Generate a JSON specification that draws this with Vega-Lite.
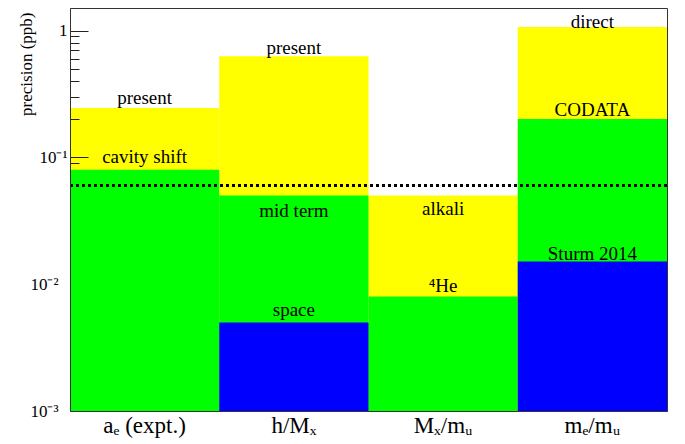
{
  "$schema": "https://vega.github.io/schema/vega-lite/v6.json",
  "width": 597,
  "height": 403,
  "autosize": {"type": "none"},
  "padding": {"left": 70, "top": 8, "right": 18, "bottom": 33},
  "background": "white",
  "config": {
    "view": {"stroke": "#333333", "strokeWidth": 1},
    "font": "Liberation Serif"
  },
  "datasets": {
    "bars": [
      {"cat": "aₑ (expt.)", "level": "yellow", "value": 0.245},
      {"cat": "h/Mₓ", "level": "yellow", "value": 0.63},
      {"cat": "Mₓ/mᵤ", "level": "yellow", "value": 0.05},
      {"cat": "mₑ/mᵤ", "level": "yellow", "value": 1.07},
      {"cat": "aₑ (expt.)", "level": "green", "value": 0.08},
      {"cat": "h/Mₓ", "level": "green", "value": 0.05},
      {"cat": "Mₓ/mᵤ", "level": "green", "value": 0.008},
      {"cat": "mₑ/mᵤ", "level": "green", "value": 0.201},
      {"cat": "h/Mₓ", "level": "blue", "value": 0.005},
      {"cat": "mₑ/mᵤ", "level": "blue", "value": 0.0151}
    ],
    "labels": [
      {"cat": "aₑ (expt.)", "text": "present", "at": 0.264},
      {"cat": "aₑ (expt.)", "text": "cavity shift", "at": 0.0905},
      {"cat": "h/Mₓ", "text": "present", "at": 0.655},
      {"cat": "h/Mₓ", "text": "mid term", "at": 0.0338},
      {"cat": "h/Mₓ", "text": "space", "at": 0.00562},
      {"cat": "Mₓ/mᵤ", "text": "alkali", "at": 0.0352},
      {"cat": "Mₓ/mᵤ", "text": "⁴He", "at": 0.00869},
      {"cat": "mₑ/mᵤ", "text": "direct", "at": 1.05},
      {"cat": "mₑ/mᵤ", "text": "CODATA", "at": 0.2125},
      {"cat": "mₑ/mᵤ", "text": "Sturm 2014", "at": 0.01555}
    ],
    "target": [{"v": 0.06}]
  },
  "layer": [
    {
      "data": {"name": "bars"},
      "mark": {"type": "bar", "stroke": null},
      "encoding": {
        "x": {
          "field": "cat",
          "type": "nominal",
          "sort": ["aₑ (expt.)", "h/Mₓ", "Mₓ/mᵤ", "mₑ/mᵤ"],
          "scale": {"paddingInner": 0, "paddingOuter": 0},
          "axis": {
            "title": null,
            "labelAngle": 0,
            "ticks": false,
            "domain": true,
            "domainColor": "#333333",
            "labelFont": "Liberation Serif",
            "labelFontSize": 23,
            "labelColor": "black",
            "labelBaseline": "alphabetic",
            "labelPadding": 21,
            "zindex": 1
          }
        },
        "y": {
          "field": "value",
          "type": "quantitative",
          "scale": {"type": "log", "domain": [0.001, 1.51], "nice": false},
          "axis": {
            "title": "precision (ppb)",
            "titleFont": "Liberation Serif",
            "titleFontSize": 17,
            "titleFontWeight": "normal",
            "titleColor": "black",
            "titleAnchor": "end",
            "titleBaseline": "middle",
            "titleX": -44,
            "titleY": 4,
            "values": [0.001, 0.01, 0.09, 0.1, 0.2, 0.3, 0.4, 0.5, 0.6, 0.7, 0.8, 0.9, 1],
            "labelExpr": "datum.value >= 0.99 ? '1' : abs(datum.value - 0.1) < 1e-9 ? '10⁻¹' : abs(datum.value - 0.01) < 1e-9 ? '10⁻²' : abs(datum.value - 0.001) < 1e-9 ? '10⁻³' : ''",
            "labelFont": "Liberation Serif",
            "labelFontSize": 17,
            "labelColor": "black",
            "labelPadding": 21,
            "labelFlush": false,
            "labelOverlap": false,
            "grid": false,
            "domainColor": "#333333",
            "tickColor": "#222222",
            "tickSize": {
              "condition": {"test": "abs(datum.value - 1) < 1e-9 || abs(datum.value - 0.1) < 1e-9", "value": -18},
              "value": -9
            },
            "tickOpacity": {
              "condition": {"test": "datum.value < 0.05", "value": 0},
              "value": 1
            },
            "zindex": 1
          }
        },
        "y2": {"datum": 0.001},
        "color": {
          "field": "level",
          "type": "nominal",
          "scale": {"domain": ["yellow", "green", "blue"], "range": ["#ffff00", "#00ff00", "#0000ff"]},
          "legend": null
        }
      }
    },
    {
      "data": {"name": "target"},
      "mark": {"type": "rule", "color": "black", "strokeWidth": 3, "strokeDash": [3, 3]},
      "encoding": {
        "y": {"field": "v", "type": "quantitative"}
      }
    },
    {
      "data": {"name": "labels"},
      "mark": {"type": "text", "font": "Liberation Serif", "fontSize": 19, "color": "black", "baseline": "alphabetic", "align": "center"},
      "encoding": {
        "x": {"field": "cat", "type": "nominal", "sort": ["aₑ (expt.)", "h/Mₓ", "Mₓ/mᵤ", "mₑ/mᵤ"], "bandPosition": 0.5},
        "y": {"field": "at", "type": "quantitative"},
        "text": {"field": "text"}
      }
    }
  ]
}
